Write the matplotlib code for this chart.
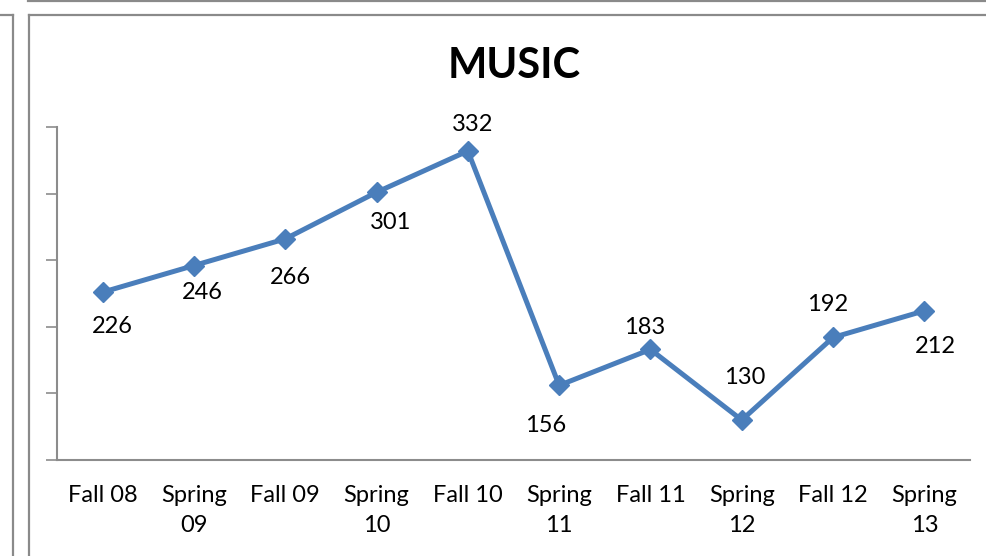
import matplotlib.pyplot as plt
from matplotlib.lines import Line2D

terms = ["Fall 08", "Spring\n09", "Fall 09", "Spring\n10", "Fall 10",
         "Spring\n11", "Fall 11", "Spring\n12", "Fall 12", "Spring\n13"]
students = [226, 246, 266, 301, 332, 156, 183, 130, 192, 212]

# where each value label sits relative to its marker, in pixels (x right, y down)
label_offsets = [(10, 34), (8, 27), (5, 39), (14, 30), (5, -26),
                 (-14, 40), (-6, -22), (3, -43), (-5, -33), (11, 36)]

W, H = 986, 556
plt.rcParams['font.family'] = ['Lato', 'DejaVu Sans']

fig = plt.figure(figsize=(W / 100, H / 100), dpi=100)
ax = fig.add_axes([57 / W, 1 - 460 / H, (970 - 57) / W, (460 - 127) / H])

xs = [i + 0.5 for i in range(len(terms))]
blue = '#4A7EBB'
ax.plot(xs, students, color=blue, lw=3.6, marker='D', markersize=10,
        markerfacecolor=blue, markeredgecolor=blue, solid_joinstyle='miter')

for x, v, (dx, dy) in zip(xs, students, label_offsets):
    ax.annotate(str(v), (x, v), xytext=(dx * 0.72, -dy * 0.72),
                textcoords='offset points', ha='center', va='center',
                fontsize=17, color='black')

ax.set_xlim(0, len(terms))
ax.set_ylim(100, 350)
ax.set_yticks(range(100, 351, 50))
ax.set_yticklabels([])
ax.set_xticks(xs)
ax.set_xticklabels(terms, fontsize=17, linespacing=1.5)
ax.tick_params(axis='x', length=0, pad=18)
ax.tick_params(axis='y', length=8, width=1.2, color='#8c8c8c', direction='out')

for side in ('top', 'right'):
    ax.spines[side].set_visible(False)
for side in ('left', 'bottom'):
    ax.spines[side].set_color('#8c8c8c')
    ax.spines[side].set_linewidth(1.5)

fig.text(514 / W, 1 - 66 / H, "MUSIC", fontsize=30, fontweight='bold',
         ha='center', va='center')


# frame lines around the chart area
def frame(x0, y0, x1, y1):
    fig.add_artist(Line2D([x0 / W, x1 / W], [1 - y0 / H, 1 - y1 / H],
                          color='#8a8a8a', lw=1.6))


frame(28, 0.5, W, 0.5)
frame(0, 14.5, 13, 14.5)
frame(12.5, 14.5, 12.5, H)
frame(29, 14.5, W, 14.5)
frame(29, 14.5, 29, H)

fig.savefig('out.png', dpi=100)
